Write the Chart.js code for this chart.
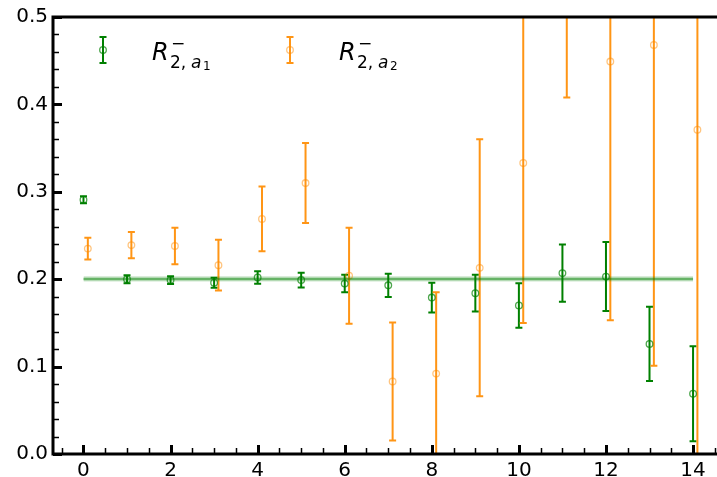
<!DOCTYPE html>
<html>
<head>
<meta charset="utf-8">
<script src="https://cdn.jsdelivr.net/npm/chart.js@4.4.0/dist/chart.umd.min.js"></script>
<style>
    html, body { margin: 0; padding: 0; background: #fff; }
    #wrap { width: 717px; height: 477px; }
</style>
</head>
<body>
<div id="wrap"><canvas id="ratioChart" width="717" height="477"></canvas></div>
<script>
// Datos
const greenX = [0, 1, 2, 3, 4, 5, 6, 7, 8, 9, 10, 11, 12, 13, 14];
const greenVals = [0.291, 0.200, 0.199, 0.196, 0.202, 0.199, 0.195, 0.193, 0.179, 0.184, 0.170, 0.207, 0.203, 0.126, 0.069];
const greenErrs = [0.004, 0.0045, 0.0045, 0.0057, 0.0072, 0.0084, 0.010, 0.0133, 0.017, 0.021, 0.0255, 0.0327, 0.0395, 0.0426, 0.0544];

const orangeX = [0.1, 1.1, 2.1, 3.1, 4.1, 5.1, 6.1, 7.1, 8.1, 9.1, 10.1, 11.1, 12.1, 13.1, 14.1];
const orangeVals = [0.235, 0.239, 0.238, 0.216, 0.269, 0.310, 0.204, 0.083, 0.092, 0.213, 0.333, 0.640, 0.449, 0.468, 0.371];
const orangeErrs = [0.0125, 0.015, 0.021, 0.029, 0.037, 0.0457, 0.055, 0.0675, 0.093, 0.147, 0.183, 0.232, 0.296, 0.367, 0.45];

// ajuste constante (banda verde)
const fitX = [0, 14];
const fitValue = 0.2003;
const fitErr = 0.003;

const xTickLabels = [0, 2, 4, 6, 8, 10, 12, 14];
const yTickLabels = [0.0, 0.1, 0.2, 0.3, 0.4, 0.5];

const colors = {
    green: '#008000',
    greenMarker: 'rgba(0, 128, 0, 0.7)',
    orange: '#ff9515',
    orangeMarker: 'rgba(255, 140, 0, 0.5)',
    fitLine: 'rgba(0, 128, 0, 0.5)',
    fitBand: 'rgba(0, 128, 0, 0.2)'
};

const FONT = "'DejaVu Sans', 'Liberation Sans', sans-serif";

// barras de error dibujadas con las escalas de Chart.js
const errorBarPlugin = {
    id: 'errorBars',
    beforeDatasetsDraw(chart) {
        const ctx = chart.ctx;
        const area = chart.chartArea;
        const xs = chart.scales.x;
        const ys = chart.scales.y;
        ctx.save();
        ctx.beginPath();
        ctx.rect(area.left, area.top, area.right - area.left, area.bottom - area.top);
        ctx.clip();
        chart.data.datasets.forEach(ds => {
            if (!ds.errors) return;
            ctx.strokeStyle = ds.errorColor;
            ctx.lineWidth = 2;
            ds.data.forEach((p, i) => {
                const e = ds.errors[i];
                const px = xs.getPixelForValue(p.x);
                const yTop = ys.getPixelForValue(p.y + e);
                const yBot = ys.getPixelForValue(p.y - e);
                ctx.beginPath();
                ctx.moveTo(px, yTop);
                ctx.lineTo(px, yBot);
                ctx.moveTo(px - 3.5, yTop);
                ctx.lineTo(px + 3.5, yTop);
                ctx.moveTo(px - 3.5, yBot);
                ctx.lineTo(px + 3.5, yBot);
                ctx.stroke();
            });
        });
        ctx.restore();
    }
};

// ejes estilo matplotlib: marcas hacia adentro y bordes negros
const axesPlugin = {
    id: 'mplAxes',
    afterDraw(chart) {
        const ctx = chart.ctx;
        const a = chart.chartArea;
        const xs = chart.scales.x;
        const ys = chart.scales.y;
        ctx.save();
        ctx.strokeStyle = '#000';
        // marcas eje y
        for (let v = 0; v <= 0.5001; v += 0.02) {
            const py = Math.round(ys.getPixelForValue(v)) + 0.5;
            const major = Math.abs(v * 10 - Math.round(v * 10)) < 1e-6;
            ctx.lineWidth = major ? 3 : 1.5;
            ctx.beginPath();
            ctx.moveTo(a.left, py);
            ctx.lineTo(a.left + (major ? 9 : 6), py);
            ctx.stroke();
        }
        // marcas eje x
        for (let v = -0.5; v <= 14.5; v += 0.5) {
            const px = Math.round(xs.getPixelForValue(v)) + 0.5;
            const major = Math.abs(v / 2 - Math.round(v / 2)) < 1e-6;
            ctx.lineWidth = major ? 3 : 1.5;
            ctx.beginPath();
            ctx.moveTo(px, a.bottom);
            ctx.lineTo(px, a.bottom - (major ? 9 : 6));
            ctx.stroke();
        }
        // bordes
        ctx.lineWidth = 3;
        ctx.beginPath();
        ctx.moveTo(a.left, a.top);
        ctx.lineTo(a.right, a.top);
        ctx.moveTo(a.left, a.top - 1.5);
        ctx.lineTo(a.left, a.bottom + 1.5);
        ctx.moveTo(a.left, a.bottom);
        ctx.lineTo(a.right, a.bottom);
        ctx.stroke();
        ctx.restore();
    }
};

// leyenda con texto matematico
function drawLabel(ctx, x, y, sub) {
    ctx.fillStyle = '#000';
    ctx.textBaseline = 'alphabetic';
    ctx.textAlign = 'left';
    ctx.font = 'italic 24px ' + FONT;
    ctx.fillText('R', x, y);
    ctx.font = '17px ' + FONT;
    ctx.fillText('\u2212', x + 19, y - 11);
    ctx.fillText('2,', x + 18, y + 8);
    ctx.font = 'italic 17px ' + FONT;
    ctx.fillText('a', x + 39, y + 8);
    ctx.font = '12px ' + FONT;
    ctx.fillText(sub, x + 51, y + 10);
}

const legendPlugin = {
    id: 'mathLegend',
    afterDraw(chart) {
        const ctx = chart.ctx;
        const items = [
            { x: 103, color: colors.green, marker: colors.greenMarker, textX: 152, sub: '1' },
            { x: 290, color: colors.orange, marker: colors.orangeMarker, textX: 339, sub: '2' }
        ];
        ctx.save();
        items.forEach(it => {
            ctx.strokeStyle = it.color;
            ctx.lineWidth = 2;
            ctx.beginPath();
            ctx.moveTo(it.x, 37);
            ctx.lineTo(it.x, 63);
            ctx.moveTo(it.x - 3.5, 37);
            ctx.lineTo(it.x + 3.5, 37);
            ctx.moveTo(it.x - 3.5, 63);
            ctx.lineTo(it.x + 3.5, 63);
            ctx.stroke();
            ctx.strokeStyle = it.marker;
            ctx.lineWidth = 1.3;
            ctx.beginPath();
            ctx.arc(it.x, 50, 3.3, 0, Math.PI * 2);
            ctx.stroke();
            drawLabel(ctx, it.textX, 60, it.sub);
        });
        ctx.restore();
    }
};

function renderRatioChart() {
    const canvas = document.getElementById('ratioChart');
    if (!canvas) return;
    const context = canvas.getContext('2d');

    new Chart(context, {
        type: 'scatter',
        data: {
            datasets: [
                {
                    label: 'fit band',
                    type: 'line',
                    data: fitX.map(x => ({ x: x, y: fitValue + fitErr })),
                    borderWidth: 0,
                    pointRadius: 0,
                    backgroundColor: colors.fitBand,
                    fill: '+1',
                    order: 3
                },
                {
                    label: 'fit band low',
                    type: 'line',
                    data: fitX.map(x => ({ x: x, y: fitValue - fitErr })),
                    borderWidth: 0,
                    pointRadius: 0,
                    fill: false,
                    order: 3
                },
                {
                    label: 'R2a1',
                    data: greenX.map((x, i) => ({ x: x, y: greenVals[i] })),
                    errors: greenErrs,
                    errorColor: colors.green,
                    pointStyle: 'circle',
                    pointRadius: 3.3,
                    pointBorderWidth: 1.3,
                    pointBorderColor: colors.greenMarker,
                    pointBackgroundColor: 'rgba(0,0,0,0)',
                    order: 2
                },
                {
                    label: 'R2a2',
                    data: orangeX.map((x, i) => ({ x: x, y: orangeVals[i] })),
                    errors: orangeErrs,
                    errorColor: colors.orange,
                    pointStyle: 'circle',
                    pointRadius: 3.3,
                    pointBorderWidth: 1.3,
                    pointBorderColor: colors.orangeMarker,
                    pointBackgroundColor: 'rgba(0,0,0,0)',
                    order: 1
                },
                {
                    label: 'fit',
                    type: 'line',
                    data: fitX.map(x => ({ x: x, y: fitValue })),
                    borderColor: colors.fitLine,
                    borderWidth: 2.5,
                    pointRadius: 0,
                    fill: false,
                    order: 0
                }
            ]
        },
        options: {
            responsive: false,
            animation: false,
            layout: { autoPadding: false, padding: { top: 15, right: 0, left: 0, bottom: 0 } },
            plugins: {
                legend: { display: false },
                tooltip: { enabled: false }
            },
            scales: {
                x: {
                    type: 'linear',
                    min: -0.7,
                    max: 14.55,
                    grid: { display: false, drawTicks: false },
                    border: { display: false },
                    afterBuildTicks: scale => {
                        scale.ticks = xTickLabels.map(v => ({ value: v }));
                    },
                    afterFit: scale => {
                        scale.height = 23;
                        scale.paddingLeft = 0;
                        scale.paddingRight = 0;
                    },
                    ticks: {
                        padding: 5,
                        color: '#000',
                        font: { family: FONT, size: 20 },
                        maxRotation: 0,
                        autoSkip: false,
                        callback: v => String(v)
                    }
                },
                y: {
                    type: 'linear',
                    min: 0,
                    max: 0.5,
                    grid: { display: false, drawTicks: false },
                    border: { display: false },
                    afterBuildTicks: scale => {
                        scale.ticks = yTickLabels.map(v => ({ value: v }));
                    },
                    afterFit: scale => { scale.width = 53; },
                    ticks: {
                        padding: 5,
                        color: '#000',
                        font: { family: FONT, size: 20 },
                        autoSkip: false,
                        callback: v => Number(v).toFixed(1)
                    }
                }
            }
        },
        plugins: [errorBarPlugin, axesPlugin, legendPlugin]
    });
}

document.addEventListener('DOMContentLoaded', renderRatioChart);
</script>
</body>
</html>
